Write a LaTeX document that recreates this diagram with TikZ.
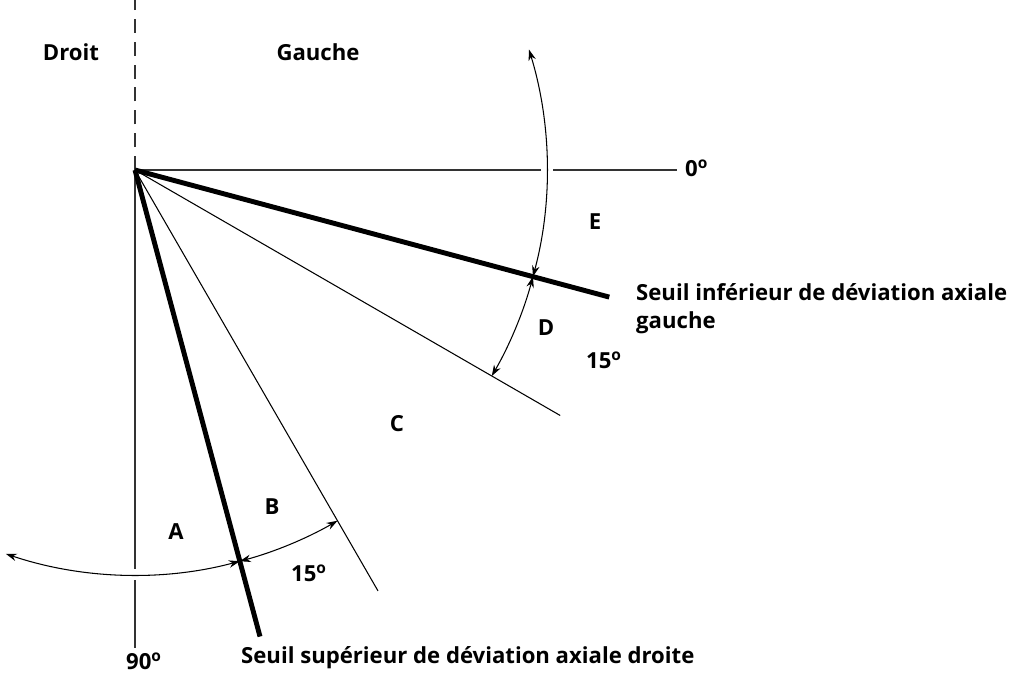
\documentclass[tikz,border=0pt]{standalone}
\usepackage{fontspec}
\setmainfont{Open Sans}
\usepackage{tikz}
\usetikzlibrary{arrows.meta}
\newcommand{\dgr}{\textsuperscript{o}}
\tikzset{
  axisline/.style = {black!80,line width=0.6pt},
  thinray/.style  = {line width=0.6pt},
  thickray/.style = {line width=2.8pt},
  anglearr/.style = {{Stealth[length=2.2mm,width=1.5mm]}-{Stealth[length=2.2mm,width=1.5mm]},line width=0.6pt},
  lbl/.style      = {font=\bfseries\fontsize{12.6}{16}\selectfont}
}

\begin{document}
\begin{tikzpicture}[x=0.02cm,y=0.02cm]
  \useasboundingbox (-135,-507) rectangle (874,170);
  % axes, broken where the arcs cross
  \draw[axisline,dashed,dash pattern=on 8 off 5] (0,0) -- (0,170);
  \draw[axisline] (0,0) -- (0,-399);
  \draw[axisline] (0,-410) -- (0,-478);
  \draw[axisline] (0,0) -- (406,0);
  \draw[axisline] (418,0) -- (542,0);
  % rays
  \draw[thickray] (0,0) -- (-15:491);
  \draw[thinray]  (0,0) -- (-30:491);
  \draw[thinray]  (0,0) -- (-60:486);
  \draw[thickray] (0,0) -- (-75:483);
  % angle arcs
  \draw[anglearr] (-15:412) arc[start angle=-15,end angle=17,radius=412];
  \draw[anglearr] (-15:412) arc[start angle=-15,end angle=-30,radius=412];
  \draw[anglearr] (-75:405) arc[start angle=-75,end angle=-60,radius=405];
  \draw[anglearr] (-75:405) arc[start angle=-75,end angle=-108.6,radius=405];
  % labels
  \node[lbl] (droit)  at (-64,118)  {Droit};
  \node[lbl] (gauche) at (183,118)  {Gauche};
  \node[lbl,anchor=west] (zero) at (544,2) {0\dgr};
  \node[lbl] (zoneE) at (460,-52)   {E};
  \node[lbl] (zoneD) at (411,-158)  {D};
  \node[lbl] (angD)  at (469,-190)  {15\dgr};
  \node[lbl] (zoneC) at (262,-254)  {C};
  \node[lbl] (zoneB) at (137,-337)  {B};
  \node[lbl] (zoneA) at (41,-362)   {A};
  \node[lbl] (angB)  at (174,-403)  {15\dgr};
  \node[lbl] (ninety) at (9,-491)   {90\dgr};
  \node[lbl,anchor=west] (seuilsup) at (100,-488) {Seuil supérieur de déviation axiale droite};
  \node[lbl,anchor=north west,align=left] (seuilinf) at (495,-107)
    {Seuil inférieur de déviation axiale\\gauche};
\end{tikzpicture}
\end{document}
